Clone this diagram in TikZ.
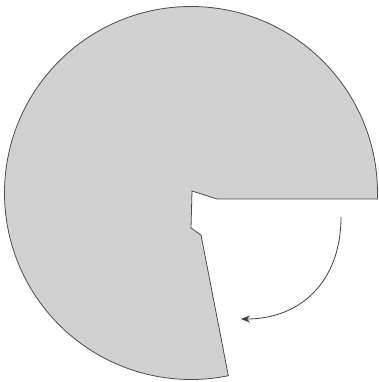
\documentclass[tikz,border=0pt]{standalone}
\usetikzlibrary{arrows.meta}
\tikzset{
  disc/.style={fill=black!18, draw=black!70, line width=0.8pt, line join=miter},
  turn/.style={draw=black!75, line width=0.8pt, -{Stealth[length=9pt,width=7pt]}}
}
\begin{document}
\begin{tikzpicture}[x=1pt,y=1pt]
\useasboundingbox (0,0) rectangle (378,382);
\coordinate (C) at (191,189);
\coordinate (A) at (217,183);
\coordinate (B) at (192,191);
\coordinate (Cn) at (191,154);
\coordinate (D) at (201,147);
\path[disc] (C) ++(-1.84:186.5) arc[start angle=-1.84, end angle=281.55, radius=186.5]
  -- (D) -- (Cn) -- (B) -- (A) -- cycle;
\coordinate (s) at (341,165);
\coordinate (e) at (241,63);
\draw[turn] (s) .. controls (341,100) and (300,63) .. (e);
\end{tikzpicture}
\end{document}
